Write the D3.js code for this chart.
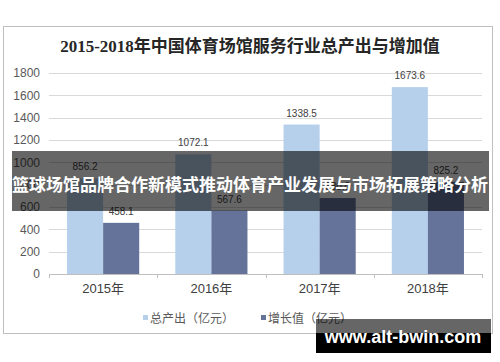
<!DOCTYPE html>
<html>
<head>
<meta charset="utf-8">
<script src="https://cdn.jsdelivr.net/npm/d3@7"></script>
<style>
  body { margin: 0; background: #fff; }
  svg { display: block; }
  text { font-family: "Liberation Sans", "Noto Sans CJK SC", sans-serif; }
</style>
</head>
<body>
<svg id="chart" width="500" height="362"></svg>
<script>
var YEARS = ['2015年', '2016年', '2017年', '2018年'];
var SERIES = ['总产出（亿元）', '增长值（亿元）'];
var OUTPUT = [856.2, 1072.1, 1338.5, 1673.6];
var ADDED = [458.1, 567.6, 680.0, 825.2];
var Y_TICKS = [0, 200, 400, 600, 800, 1000, 1200, 1400, 1600, 1800];
var COLORS = ['#b6d0ec', '#65739b'];

var TITLE = '2015-2018年中国体育场馆服务行业总产出与增加值';
var BANNER = '篮球场馆品牌合作新模式推动体育产业发展与市场拓展策略分析';
var SITE = 'www.alt-bwin.com';

var svg = d3.select('#chart');

// outer frame
svg.append('rect')
  .attr('x', 3.5).attr('y', 26.5)
  .attr('width', 489).attr('height', 307)
  .attr('fill', '#fff')
  .attr('stroke', '#bfbfbf');

svg.append('text')
  .attr('x', 250).attr('y', 52)
  .attr('text-anchor', 'middle')
  .style('font-family', '"Liberation Serif", "Noto Sans CJK SC", serif')
  .style('font-size', '17px')
  .style('font-weight', 'bold')
  .attr('fill', '#262626')
  .text(TITLE);

var x = d3.scaleBand().domain(YEARS).range([49, 482])
  .paddingInner(1 / 3).paddingOuter(1 / 6);
var xs = d3.scaleBand().domain([0, 1]).range([0, x.bandwidth()]);
var y = d3.scaleLinear().domain([0, 1800]).range([274, 73]);

// grid
svg.append('g').selectAll('line')
  .data(Y_TICKS.filter(function(d) { return d > 0; }))
  .enter().append('line')
  .attr('x1', 49).attr('x2', 482)
  .attr('y1', function(d) { return Math.round(y(d)) + 0.5; })
  .attr('y2', function(d) { return Math.round(y(d)) + 0.5; })
  .attr('stroke', '#d9d9d9');

// y axis labels
var yAxis = svg.append('g')
  .attr('transform', 'translate(40,0)')
  .call(d3.axisLeft(y).tickValues(Y_TICKS).tickFormat(d3.format('d'))
    .tickSize(0).tickPadding(0));
yAxis.select('.domain').remove();
yAxis.selectAll('text')
  .style('font-size', '12px')
  .attr('fill', '#595959');

// bars
var rows = YEARS.map(function(yr, i) {
  return { year: yr, values: [OUTPUT[i], ADDED[i]] };
});

var groups = svg.append('g').selectAll('g')
  .data(rows)
  .enter().append('g')
  .attr('transform', function(d) { return 'translate(' + x(d.year) + ',0)'; });

groups.selectAll('rect')
  .data(function(d) { return d.values; })
  .enter().append('rect')
  .attr('x', function(d, i) { return xs(i); })
  .attr('width', xs.bandwidth())
  .attr('y', function(d) { return y(d); })
  .attr('height', function(d) { return y(0) - y(d); })
  .attr('fill', function(d, i) { return COLORS[i]; });

groups.selectAll('text')
  .data(function(d) { return d.values; })
  .enter().append('text')
  .attr('x', function(d, i) { return xs(i) + xs.bandwidth() / 2; })
  .attr('y', function(d) { return y(d) - 8; })
  .attr('text-anchor', 'middle')
  .style('font-size', '10px')
  .attr('fill', '#404040')
  .text(function(d) { return d.toFixed(1); });

// x axis
var xAxis = svg.append('g')
  .attr('transform', 'translate(0,274)')
  .call(d3.axisBottom(x).tickSize(0).tickPadding(10));
xAxis.select('.domain').attr('stroke', '#bfbfbf');
xAxis.selectAll('text')
  .style('font-size', '13px')
  .attr('fill', '#404040');

var edges = YEARS.map(function(d) { return x(d) - x.step() * x.paddingInner() / 2; });
edges.push(482);
xAxis.selectAll('.edge')
  .data(edges)
  .enter().append('line')
  .attr('class', 'edge')
  .attr('x1', function(d) { return Math.round(d) + 0.5; })
  .attr('x2', function(d) { return Math.round(d) + 0.5; })
  .attr('y1', 0).attr('y2', 4)
  .attr('stroke', '#bfbfbf');

// legend
var legendX = [143, 261];
var legend = svg.append('g').selectAll('g')
  .data(SERIES)
  .enter().append('g')
  .attr('transform', function(d, i) { return 'translate(' + legendX[i] + ',318)'; });
legend.append('rect')
  .attr('x', 0).attr('y', -3)
  .attr('width', 5).attr('height', 5)
  .attr('fill', function(d, i) { return COLORS[i]; });
legend.append('text')
  .attr('x', 7).attr('y', 4.5)
  .style('font-size', '12px')
  .attr('fill', '#595959')
  .text(function(d) { return d; });

// banner overlay
svg.append('rect')
  .attr('x', 12).attr('y', 151)
  .attr('width', 477).attr('height', 60)
  .attr('fill', 'rgba(0,0,0,0.6)');
svg.append('text')
  .attr('x', 250).attr('y', 191)
  .attr('text-anchor', 'middle')
  .style('font-family', '"Noto Sans CJK SC", sans-serif')
  .style('font-size', '17px')
  .style('font-weight', 'bold')
  .attr('fill', '#fff')
  .text(BANNER);

// site stamp
svg.append('rect')
  .attr('x', 316).attr('y', 319)
  .attr('width', 175).attr('height', 14)
  .attr('fill', 'rgba(0,0,0,0.6)');
svg.append('rect')
  .attr('x', 316).attr('y', 333)
  .attr('width', 175).attr('height', 20)
  .attr('fill', '#000');
svg.append('text')
  .attr('x', 403).attr('y', 343)
  .attr('text-anchor', 'middle')
  .style('font-size', '18px')
  .style('font-weight', 'bold')
  .attr('fill', '#fff')
  .text(SITE);
</script>
</body>
</html>
